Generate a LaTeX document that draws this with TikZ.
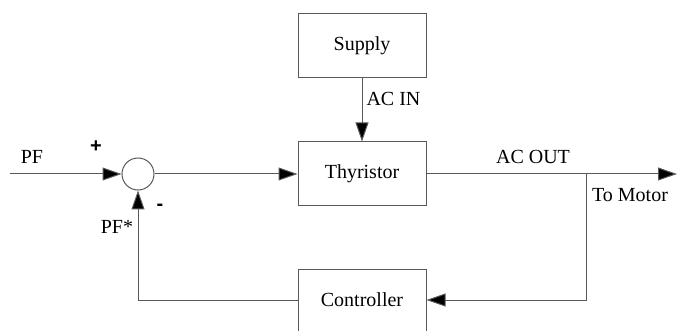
\documentclass[tikz,border=0pt]{standalone}
\usepackage{fontspec}
\setmainfont{Liberation Serif}
\newfontfamily\signfont{Liberation Sans}
\usetikzlibrary{arrows.meta}
\begin{document}
\begin{tikzpicture}[x=1pt,y=-1pt,
  line width=1pt,
  every node/.style={font=\fontsize{20}{24}\selectfont},
  blk/.style={draw=black!65,rectangle,minimum width=128pt,minimum height=64pt,inner sep=0pt},
  wire/.style={draw=black!65},
  arr/.style={wire,-{Triangle[length=19pt,width=13pt,fill=black]}},
  lbl/.style={inner sep=0pt},
  sign/.style={inner sep=0pt,font=\signfont\bfseries\fontsize{20}{24}\selectfont}]
\useasboundingbox (0,0) rectangle (677,331);
\node[blk] (supply) at (362,46) {Supply};
\node[blk] (thy) at (362,174) {Thyristor};
\node[blk,minimum height=62pt] (ctrl) at (362,300) {Controller};
\node[draw=black!65,circle,minimum size=32pt,inner sep=0pt] (sum) at (138,174) {};
\coordinate (in) at (10,174);
\coordinate (out) at (677,174);
\coordinate (br) at (586,174);
\coordinate (brc) at (586,300);
\coordinate (fbc) at (138,300);
\draw[arr] (in) -- (sum.west);
\draw[arr] (sum.east) -- (thy.west);
\draw[arr] (supply.south) -- (thy.north);
\draw[arr] (thy.east) -- (out);
\draw[arr] (br) -- (brc) -- (ctrl.east);
\draw[arr] (ctrl.west) -- (fbc) -- (sum.south);
\node[lbl] (pf) at (32,157) {PF};
\node[sign] (plus) at (96,147) {+};
\node[sign] (minus) at (160,207) {-};
\node[lbl] (pfs) at (117,227) {PF*};
\node[lbl,anchor=west] (acin) at (366,99) {AC IN};
\node[lbl] (acout) at (533,157) {AC OUT};
\node[lbl] (motor) at (630,195) {To Motor};
\end{tikzpicture}
\end{document}
